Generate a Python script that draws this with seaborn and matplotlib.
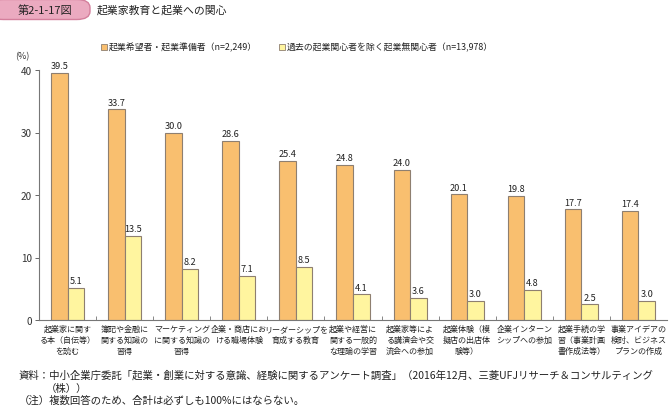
import matplotlib
matplotlib.use("Agg")
import matplotlib.pyplot as plt
from matplotlib.patches import FancyBboxPatch, Rectangle
import seaborn as sns
import pandas as pd

sns.set_style("white")
plt.rcParams['font.family'] = ['Noto Sans CJK JP', 'DejaVu Sans']

categories = [
    "起業家に関す\nる本（自伝等）\nを読む",
    "簿記や金融に\n関する知識の\n習得",
    "マーケティング\nに関する知識の\n習得",
    "企業・商店にお\nける職場体験",
    "リーダーシップを\n育成する教育",
    "起業や経営に\n関する一般的\nな理論の学習",
    "起業家等によ\nる講演会や交\n流会への参加",
    "起業体験（模\n擬店の出店体\n験等）",
    "企業インターン\nシップへの参加",
    "起業手続の学\n習（事業計画\n書作成法等）",
    "事業アイデアの\n検討、ビジネス\nプランの作成",
]
series_names = ["起業希望者・起業準備者（n=2,249）",
                "過去の起業関心者を除く起業無関心者（n=13,978）"]
values_a = [39.5, 33.7, 30.0, 28.6, 25.4, 24.8, 24.0, 20.1, 19.8, 17.7, 17.4]
values_b = [5.1, 13.5, 8.2, 7.1, 8.5, 4.1, 3.6, 3.0, 4.8, 2.5, 3.0]
yticks = [0, 10, 20, 30, 40]

colors = ["#F9BF6F", "#FFF59F"]
edge = "#8E7F70"

df = pd.DataFrame({
    "cat": categories * 2,
    "val": values_a + values_b,
    "series": [series_names[0]] * len(categories) + [series_names[1]] * len(categories),
})

W, H = 669, 406
fig = plt.figure(figsize=(W / 100, H / 100), dpi=100)
ax = fig.add_axes([39 / W, (H - 321) / H, 628 / W, 250 / H])

sns.barplot(data=df, x="cat", y="val", hue="series", palette=colors,
            saturation=1, width=0.58, gap=0, edgecolor=edge, linewidth=0.8,
            ax=ax, legend=False, order=categories, hue_order=series_names)

for cont in ax.containers:
    ax.bar_label(cont, fmt="%.1f", padding=2, fontsize=6.6, color="#222222")

ax.set_ylim(0, 40)
ax.set_xlim(-0.5, len(categories) - 0.5)
ax.set_yticks(yticks)
ax.set_yticklabels([str(t) for t in yticks], fontsize=7.2, color="#333333")
ax.set_xlabel("")
ax.set_ylabel("")
ax.set_xticks(range(len(categories)))
ax.set_xticklabels(categories, fontsize=5.8, linespacing=1.25, color="#222222")
ax.tick_params(axis="x", length=0, pad=3)
ax.tick_params(axis="y", direction="out", length=3, width=0.7, color="#666666", pad=2, left=True)
ax.set_xticks([i + 0.5 for i in range(len(categories) - 1)], minor=True)
ax.tick_params(axis="x", which="minor", direction="in", length=3, width=0.7, color="#888888", bottom=True)
for s in ["top", "right"]:
    ax.spines[s].set_visible(False)
for s in ["left", "bottom"]:
    ax.spines[s].set_color("#777777")
    ax.spines[s].set_linewidth(0.8)
for t in ax.texts:
    t.set_clip_on(False)

def fx(px):
    return px / W

def fy(py):
    return (H - py) / H

# header box
box = FancyBboxPatch((fx(-10), fy(20.5)), fx(100), (20 / H),
                     boxstyle="round,pad=0,rounding_size=0.02",
                     transform=fig.transFigure, facecolor="#EBAAC0",
                     edgecolor="#D47F9C", linewidth=1.0)
fig.patches.append(box)
fig.text(fx(45), fy(10.5), "第2-1-17図", fontsize=8, ha="center", va="center", color="#222222")
fig.text(fx(97), fy(10.5), "起業家教育と起業への関心", fontsize=7.8, ha="left", va="center", color="#222222")

# legend
leg_x = [101, 279]
for i, name in enumerate(series_names):
    fig.patches.append(Rectangle((fx(leg_x[i]), fy(51)), 6 / W, 6 / H,
                                 transform=fig.transFigure, facecolor=colors[i],
                                 edgecolor=edge, linewidth=0.6))
    fig.text(fx(leg_x[i] + 8), fy(47.5), name, fontsize=6.4, ha="left", va="center", color="#222222")

fig.text(fx(22), fy(57), "(%)", fontsize=6.5, ha="center", va="center", color="#333333")

# footnotes
fig.text(fx(19), fy(378.5), "資料：中小企業庁委託「起業・創業に対する意識、経験に関するアンケート調査」（2016年12月、三菱UFJリサーチ＆コンサルティング",
         fontsize=7.5, ha="left", va="baseline", color="#222222")
fig.text(fx(46), fy(392), "（株））", fontsize=7.5, ha="left", va="baseline", color="#222222")
fig.text(fx(19), fy(404), "（注）複数回答のため、合計は必ずしも100%にはならない。",
         fontsize=7.5, ha="left", va="baseline", color="#222222")

fig.savefig("out.png", dpi=100)
